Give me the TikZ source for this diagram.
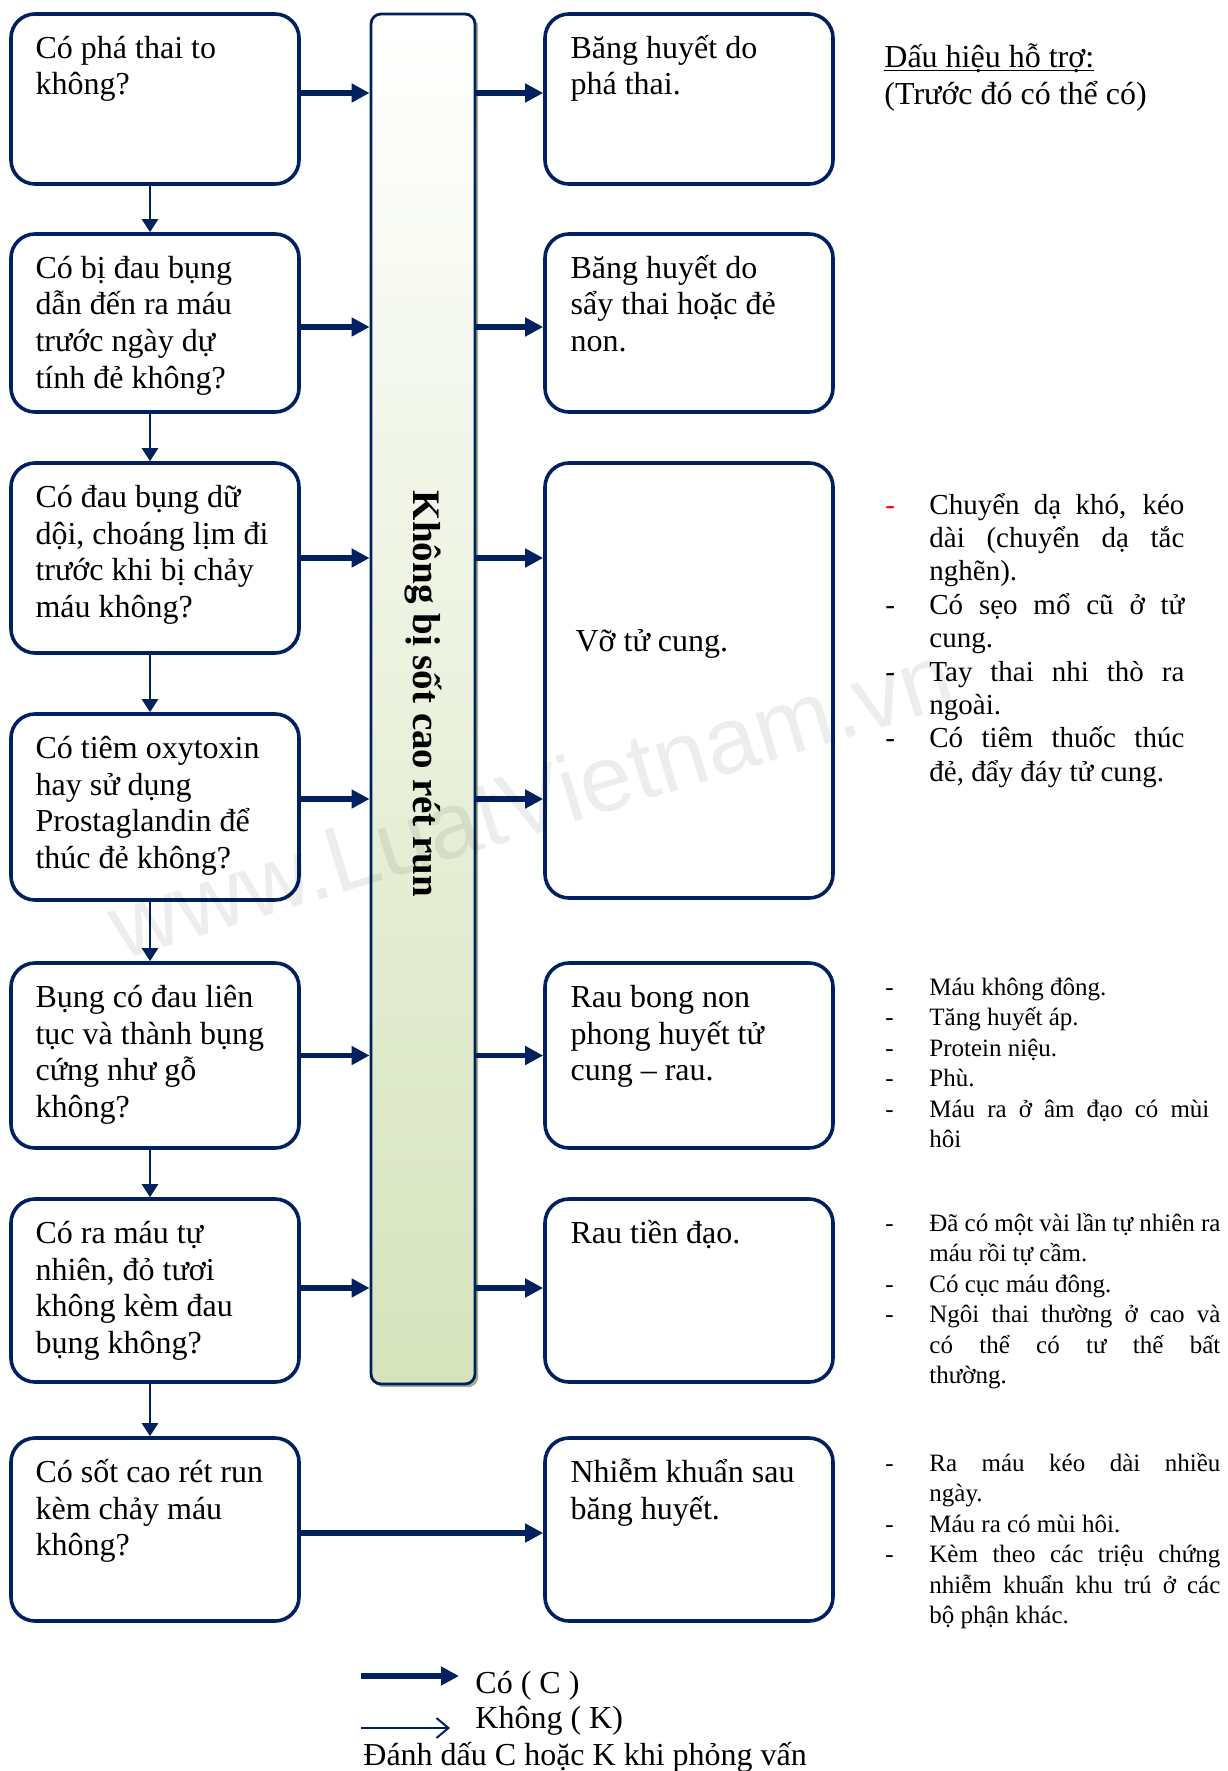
\documentclass[tikz,border=0pt]{standalone}
\usepackage{fontspec}
\setmainfont{Liberation Serif}
\newfontfamily\wmfont{Liberation Sans}
\usetikzlibrary{arrows.meta,calc,shadows}
\definecolor{navy}{RGB}{0,32,96}
\definecolor{barbottom}{RGB}{214,227,188}
\definecolor{barshade}{RGB}{166,178,138}
% justified list lines with a hanging dash
\newlength\itemtw
\newcommand\jln[1]{\makebox[\itemtw][s]{#1}}
\newcommand\bul[1]{\makebox[22pt][l]{#1}}
\newcommand\ind{\hspace*{22pt}}
% underline drawn close to the baseline
\newcommand\lowul[1]{\leavevmode\setbox0\hbox{#1}\rlap{\rule[-1.6pt]{\wd0}{0.8pt}}\box0}
\begin{document}
\begin{tikzpicture}[x=0.5pt,y=-0.5pt,
  qbox/.style={draw=navy, line width=1.8pt, rounded corners=12pt, fill=white,
    minimum width=144pt, inner sep=0pt},
  qtext/.style={anchor=base west, inner sep=0pt, font=\fontsize{16}{18.4}\selectfont},
  ltext/.style={anchor=base west, inner sep=0pt, font=\fontsize{14.5}{16.7}\selectfont},
  stext/.style={anchor=base west, inner sep=0pt, font=\fontsize{12.5}{15.25}\selectfont},
  carrow/.style={draw=navy, line width=2.8pt, -{Triangle[length=9pt,width=9pt]}},
  varrow/.style={draw=navy, line width=1.2pt, -{Triangle[length=6.5pt,width=8pt]}},
  narrow/.style={draw=navy, line width=1pt, -{Straight Barb[length=6pt,width=10pt]}}
]
\useasboundingbox (0,0) rectangle (1227,1771);

% central bar
\node[draw=navy, line width=1.4pt, rounded corners=5pt, minimum width=52pt,
  minimum height=685pt, top color=white, bottom color=barbottom,
  drop shadow={shadow xshift=1.6pt, shadow yshift=-1.6pt, fill=barshade, opacity=1}]
  (bar) at (423,699) {};
\node[rotate=-90, inner sep=0pt, font=\bfseries\fontsize{19.5}{22}\selectfont]
  (bartxt) at (423,694) {Không bị sốt cao rét run};

% question boxes
\node[qbox, minimum height=85pt]   (b1) at (155,99) {};
\node[qbox, minimum height=89pt]   (b2) at (155,323) {};
\node[qbox, minimum height=95pt]   (b3) at (155,558) {};
\node[qbox, minimum height=93pt]   (b4) at (155,807) {};
\node[qbox, minimum height=92.5pt] (b5) at (155,1055.5) {};
\node[qbox, minimum height=91.5pt] (b6) at (155,1290.5) {};
\node[qbox, minimum height=91.5pt] (b7) at (155,1529.5) {};

% diagnosis boxes
\node[qbox, minimum height=85pt]    (r1) at (689,99) {};
\node[qbox, minimum height=89pt]    (r2) at (689,323) {};
\node[qbox, minimum height=217.5pt] (r3) at (689,680.5) {};
\node[qbox, minimum height=92.5pt]  (r4) at (689,1055.5) {};
\node[qbox, minimum height=91.5pt]  (r5) at (689,1290.5) {};
\node[qbox, minimum height=91.5pt]  (r6) at (689,1529.5) {};

% question texts
\node[qtext] (t1) at ($(b1.north west)+(13pt,-23pt)$) {\parbox[t]{130pt}{Có phá thai to\\không?}};
\node[qtext] (t2) at ($(b2.north west)+(13pt,-23pt)$) {\parbox[t]{130pt}{Có bị đau bụng\\dẫn đến ra máu\\trước ngày dự\\tính đẻ không?}};
\node[qtext] (t3) at ($(b3.north west)+(13pt,-23pt)$) {\parbox[t]{130pt}{Có đau bụng dữ\\dội, choáng lịm đi\\trước khi bị chảy\\máu không?}};
\node[qtext] (t4) at ($(b4.north west)+(13pt,-23pt)$) {\parbox[t]{130pt}{Có tiêm oxytoxin\\hay sử dụng\\Prostaglandin để\\thúc đẻ không?}};
\node[qtext] (t5) at ($(b5.north west)+(13pt,-23pt)$) {\parbox[t]{130pt}{Bụng có đau liên\\tục và thành bụng\\cứng như gỗ\\không?}};
\node[qtext] (t6) at ($(b6.north west)+(13pt,-23pt)$) {\parbox[t]{130pt}{Có ra máu tự\\nhiên, đỏ tươi\\không kèm đau\\bụng không?}};
\node[qtext] (t7) at ($(b7.north west)+(13pt,-23pt)$) {\parbox[t]{130pt}{Có sốt cao rét run\\kèm chảy máu\\không?}};

% diagnosis texts
\node[qtext] (s1) at ($(r1.north west)+(13.5pt,-23pt)$) {\parbox[t]{130pt}{Băng huyết do\\phá thai.}};
\node[qtext] (s2) at ($(r2.north west)+(13.5pt,-23pt)$) {\parbox[t]{130pt}{Băng huyết do\\sẩy thai hoặc đẻ\\non.}};
\node[qtext] (s3) at ($(r3.north west)+(16pt,-95pt)$) {Vỡ tử cung.};
\node[qtext] (s4) at ($(r4.north west)+(13.5pt,-23pt)$) {\parbox[t]{130pt}{Rau bong non\\phong huyết tử\\cung – rau.}};
\node[qtext] (s5) at ($(r5.north west)+(13.5pt,-23pt)$) {Rau tiền đạo.};
\node[qtext] (s6) at ($(r6.north west)+(13.5pt,-23pt)$) {\parbox[t]{130pt}{Nhiễm khuẩn sau\\băng huyết.}};

% row levels of the horizontal connectors
\coordinate (y1) at ([yshift=3pt]b1.east);
\coordinate (y2) at ([yshift=-2pt]b2.east);
\coordinate (y3) at (b3.east);
\coordinate (y4) at ([yshift=4pt]b4.east);
\coordinate (y5) at (b5.east);
\coordinate (y6) at ([yshift=1.25pt]b6.east);
\coordinate (y7) at ([yshift=-1.75pt]b7.east);

% "yes" connectors into the bar
\foreach \i in {1,...,6} \draw[carrow] (y\i) -- (y\i -| bar.west);
% bar to diagnoses
\draw[carrow] (y1 -| bar.east) -- (y1 -| r1.west);
\draw[carrow] (y2 -| bar.east) -- (y2 -| r2.west);
\draw[carrow] (y3 -| bar.east) -- (y3 -| r3.west);
\draw[carrow] (y4 -| bar.east) -- (y4 -| r3.west);
\draw[carrow] (y5 -| bar.east) -- (y5 -| r4.west);
\draw[carrow] (y6 -| bar.east) -- (y6 -| r5.west);
\draw[carrow] (y7) -- (y7 -| r6.west);

% "no" connectors down the question column
\draw[varrow] ([xshift=-2.5pt]b1.south) -- ([xshift=-2.5pt]b2.north);
\draw[varrow] ([xshift=-2.5pt]b2.south) -- ([xshift=-2.5pt]b3.north);
\draw[varrow] ([xshift=-2.5pt]b3.south) -- ([xshift=-2.5pt]b4.north);
\draw[varrow] ([xshift=-2.5pt]b4.south) -- ([xshift=-2.5pt]b5.north);
\draw[varrow] ([xshift=-2.5pt]b5.south) -- ([xshift=-2.5pt]b6.north);
\draw[varrow] ([xshift=-2.5pt]b6.south) -- ([xshift=-2.5pt]b7.north);

% supporting signs
\node[qtext] (hd) at (884,68) {\parbox[t]{200pt}{\lowul{Dấu hiệu hỗ trợ:}\\(Trước đó có thể có)}};

\node[ltext] (n1) at (885,514) {\parbox[t]{152pt}{\setlength\itemtw{127.5pt}%
\bul{\textcolor{red}{-}}\jln{Chuyển dạ khó, kéo}\\
\ind\jln{dài (chuyển dạ tắc}\\
\ind nghẽn).\\
\bul{-}\jln{Có sẹo mổ cũ ở tử}\\
\ind cung.\\
\bul{-}\jln{Tay thai nhi thò ra}\\
\ind ngoài.\\
\bul{-}\jln{Có tiêm thuốc thúc}\\
\ind đẻ, đẩy đáy tử cung.}};

\node[stext] (n2) at (885,995) {\parbox[t]{170pt}{\setlength\itemtw{145.5pt}%
\bul{-}Máu không đông.\\
\bul{-}Tăng huyết áp.\\
\bul{-}Protein niệu.\\
\bul{-}Phù.\\
\bul{-}\makebox[140pt][s]{Máu ra ở âm đạo có mùi}\\
\ind hôi}};

\node[stext] (n3) at (885,1231) {\parbox[t]{170pt}{\setlength\itemtw{145.5pt}%
\bul{-}\jln{Đã có một vài lần tự nhiên ra}\\
\ind máu rồi tự cầm.\\
\bul{-}Có cục máu đông.\\
\bul{-}\jln{Ngôi thai thường ở cao và}\\
\ind\jln{có thể có tư thế bất}\\
\ind thường.}};

\node[stext] (n4) at (885,1471) {\parbox[t]{170pt}{\setlength\itemtw{145.5pt}%
\bul{-}\jln{Ra máu kéo dài nhiều}\\
\ind ngày.\\
\bul{-}Máu ra có mùi hôi.\\
\bul{-}\jln{Kèm theo các triệu chứng}\\
\ind\jln{nhiễm khuẩn khu trú ở các}\\
\ind bộ phận khác.}};

% legend
\coordinate (lk1) at (361,1676);
\coordinate (lk2) at (459,1676);
\draw[carrow] (lk1) -- (lk2);
\coordinate (lk3) at (361,1728);
\coordinate (lk4) at (450,1728);
\draw[narrow] (lk3) -- (lk4);
\node[qtext] (lc) at (475,1693) {Có ( C )};
\node[qtext] (lk) at (475,1728) {Không ( K)};
\node[qtext] (ln) at (363,1765) {Đánh dấu C hoặc K khi phỏng vấn};

% faint site mark across the chart
\node[rotate=17, inner sep=0pt, font=\wmfont\fontsize{47}{50}\selectfont,
  text=black, text opacity=0.07] (wm) at (531,800) {www.LuatVietnam.vn};
\end{tikzpicture}
\end{document}
